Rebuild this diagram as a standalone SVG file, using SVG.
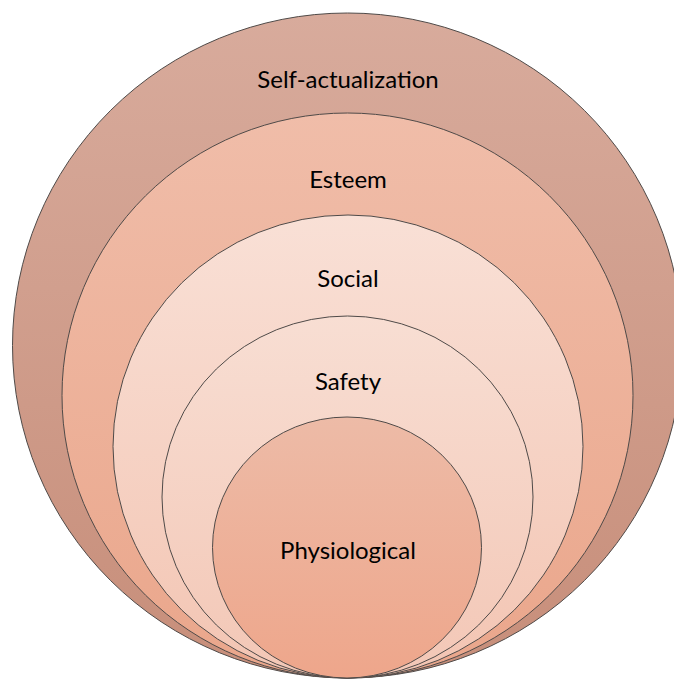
<svg xmlns="http://www.w3.org/2000/svg" width="674" height="679" viewBox="0 0 674 679">
  <defs>
    <linearGradient id="gOuter" x1="0" y1="0" x2="0" y2="1">
      <stop offset="0" stop-color="#d8ab9c"/>
      <stop offset="1" stop-color="#c78e7a"/>
    </linearGradient>
    <linearGradient id="gEsteem" x1="0" y1="0" x2="0" y2="1">
      <stop offset="0" stop-color="#f0bda9"/>
      <stop offset="1" stop-color="#eaa68b"/>
    </linearGradient>
    <linearGradient id="gSocial" x1="0" y1="0" x2="0" y2="1">
      <stop offset="0" stop-color="#f9e0d6"/>
      <stop offset="1" stop-color="#f3c5b3"/>
    </linearGradient>
    <linearGradient id="gSafety" x1="0" y1="0" x2="0" y2="1">
      <stop offset="0" stop-color="#f8ded3"/>
      <stop offset="1" stop-color="#f3c7b6"/>
    </linearGradient>
    <linearGradient id="gPhys" x1="0" y1="0" x2="0" y2="1">
      <stop offset="0" stop-color="#edbba7"/>
      <stop offset="1" stop-color="#eea68b"/>
    </linearGradient>
  </defs>
  <style>
    .ring { stroke: #4f4a48; stroke-width: 1; }
    .label { font-family: Lato, "Liberation Sans", sans-serif; font-size: 24px; fill: #000; text-anchor: middle; }
  </style>

  <!-- nested rings, outermost first, all touching at the bottom -->
  <g id="self-actualization">
    <ellipse class="ring" cx="347.5" cy="345.5" rx="335" ry="332.5" fill="url(#gOuter)"/>
    <text class="label" x="348" y="88">Self-actualization</text>
  </g>
  <g id="esteem">
    <ellipse class="ring" cx="347.5" cy="395.5" rx="285.5" ry="282.5" fill="url(#gEsteem)"/>
    <text class="label" x="348" y="188">Esteem</text>
  </g>
  <g id="social">
    <ellipse class="ring" cx="348" cy="446.5" rx="235" ry="231.5" fill="url(#gSocial)"/>
    <text class="label" x="348" y="287">Social</text>
  </g>
  <g id="safety">
    <ellipse class="ring" cx="347.5" cy="497" rx="185.5" ry="181" fill="url(#gSafety)"/>
    <text class="label" x="348" y="390">Safety</text>
  </g>
  <g id="physiological">
    <ellipse class="ring" cx="347" cy="547.5" rx="134.5" ry="130.5" fill="url(#gPhys)"/>
    <text class="label" x="348" y="559">Physiological</text>
  </g>
  <g id="connectors"></g>
</svg>
